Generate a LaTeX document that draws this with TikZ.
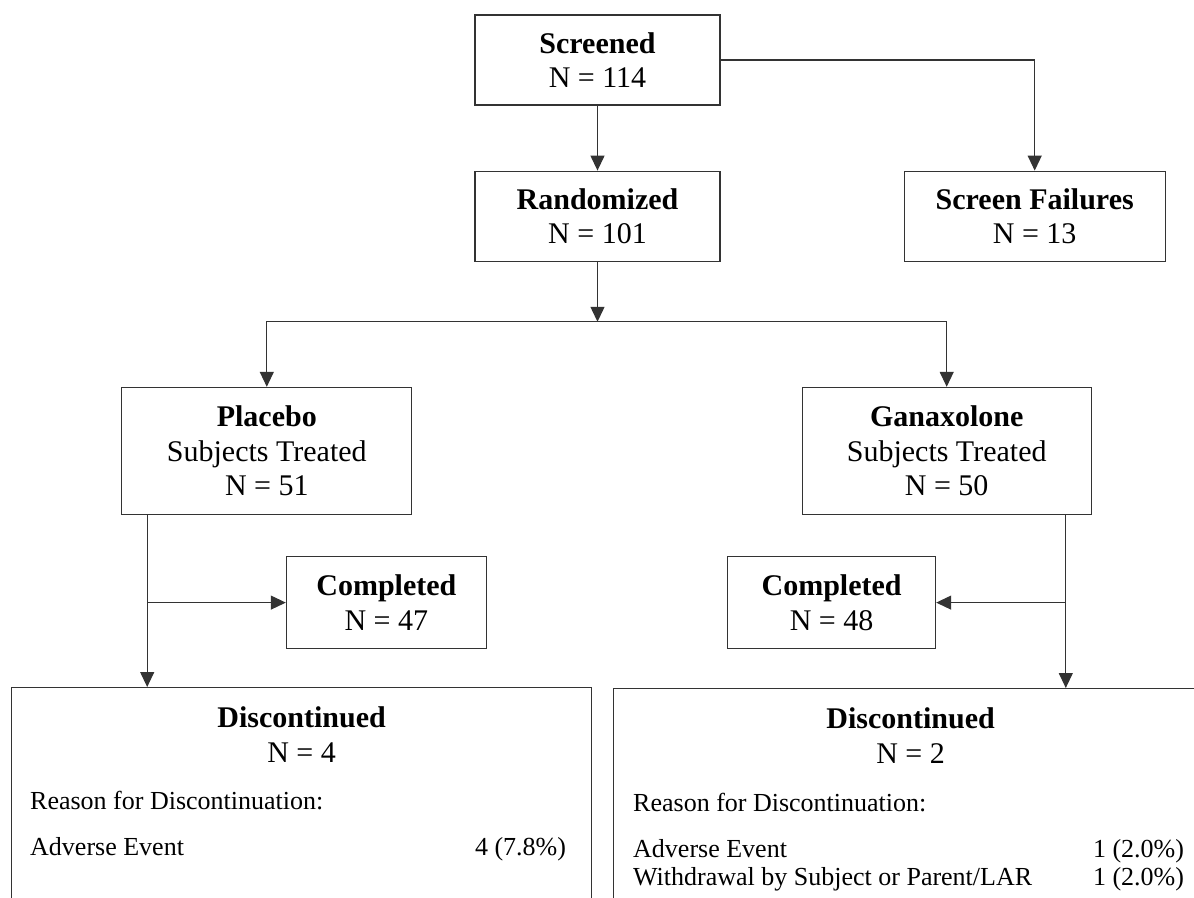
\documentclass[tikz,border=0pt]{standalone}
\usepackage{fontspec}
\setmainfont{Liberation Serif}
\usetikzlibrary{arrows.meta,positioning}

\begin{document}
\begin{tikzpicture}[
  x=1pt, y=-1pt,
  headtext/.style={align=center, inner sep=0pt, font=\fontsize{30}{34.5}\selectfont},
  flowbox/.style={headtext, draw=black!80, line width=1.2pt},
  flow/.style={-{Triangle[length=15pt,width=14pt]}, line width=1.2pt, black!80},
  reason/.style={inner sep=0pt, font=\fontsize{26}{30}\selectfont}
]
  \useasboundingbox (0,0) rectangle (1194,897);

  % Screening
  \node[flowbox, minimum width=245pt, minimum height=90pt] (screened) at (597.5,60) {\textbf{Screened}\\N = 114};
  \node[flowbox, minimum width=245pt, minimum height=90pt, below=65pt of screened] (rand) {\textbf{Randomized}\\N = 101};
  \node[flowbox, minimum width=261pt, minimum height=90pt, right=183pt of rand] (fail) {\textbf{Screen Failures}\\N = 13};

  % Treatment arms
  \node[flowbox, minimum width=290pt, minimum height=127pt, below left=125pt and 62pt of rand] (placebo) {\textbf{Placebo}\\Subjects Treated\\N = 51};
  \node[flowbox, minimum width=289pt, minimum height=127pt, below right=125pt and 81pt of rand] (gana) {\textbf{Ganaxolone}\\Subjects Treated\\N = 50};

  % Completers
  \node[flowbox, minimum width=200pt, minimum height=92pt, below right=41pt and 19pt of placebo.south] (comp1) {\textbf{Completed}\\N = 47};
  \node[flowbox, minimum width=208pt, minimum height=92pt, below left=41pt and 10.5pt of gana.south] (comp2) {\textbf{Completed}\\N = 48};

  % Discontinued (boxes run off the page)
  \node[flowbox, anchor=north west, minimum width=580pt, minimum height=260pt] (disc1) at (11,687) {};
  \node[flowbox, anchor=north west, minimum width=594pt, minimum height=260pt] (disc2) at (613,688) {};

  \node[headtext, below=19.5pt of disc1.north] (d1head) {\textbf{Discontinued}\\N = 4};
  \node[reason, anchor=base west] (d1why) at ([shift={(19pt,-122pt)}]disc1.north west) {Reason for Discontinuation:};
  \node[reason, anchor=base west] (d1ae) at ([shift={(19pt,-168pt)}]disc1.north west) {Adverse Event};
  \node[reason, anchor=base east] (d1aen) at ([shift={(-26pt,-168pt)}]disc1.north east) {4 (7.8\%)};

  \node[headtext, below=19.5pt of disc2.north] (d2head) {\textbf{Discontinued}\\N = 2};
  \node[reason, anchor=base west] (d2why) at ([shift={(20pt,-123pt)}]disc2.north west) {Reason for Discontinuation:};
  \node[reason, anchor=base west] (d2ae) at ([shift={(20pt,-169pt)}]disc2.north west) {Adverse Event};
  \node[reason, anchor=base east] (d2aen) at ([shift={(-24pt,-169pt)}]disc2.north east) {1 (2.0\%)};
  \node[reason, anchor=base west] (d2wd) at ([shift={(20pt,-197pt)}]disc2.north west) {Withdrawal by Subject or Parent/LAR};
  \node[reason, anchor=base east] (d2wdn) at ([shift={(-24pt,-197pt)}]disc2.north east) {1 (2.0\%)};

  % Arrows
  \draw[flow] (screened) -- (rand);
  \draw[flow] (screened.east) -| (fail.north);
  \coordinate[below=60pt of rand.south] (split);
  \draw[flow] (rand) -- (split);
  \draw[flow] (split) -| (placebo.north);
  \draw[flow] (split) -| (gana.north);

  \coordinate[xshift=26pt] (ptrunk) at (placebo.south west);
  \draw[flow] (ptrunk) -- (ptrunk |- disc1.north);
  \draw[flow] (ptrunk |- comp1.west) -- (comp1.west);
  \coordinate[xshift=-26pt] (gtrunk) at (gana.south east);
  \draw[flow] (gtrunk) -- (gtrunk |- disc2.north);
  \draw[flow] (gtrunk |- comp2.east) -- (comp2.east);
\end{tikzpicture}
\end{document}
